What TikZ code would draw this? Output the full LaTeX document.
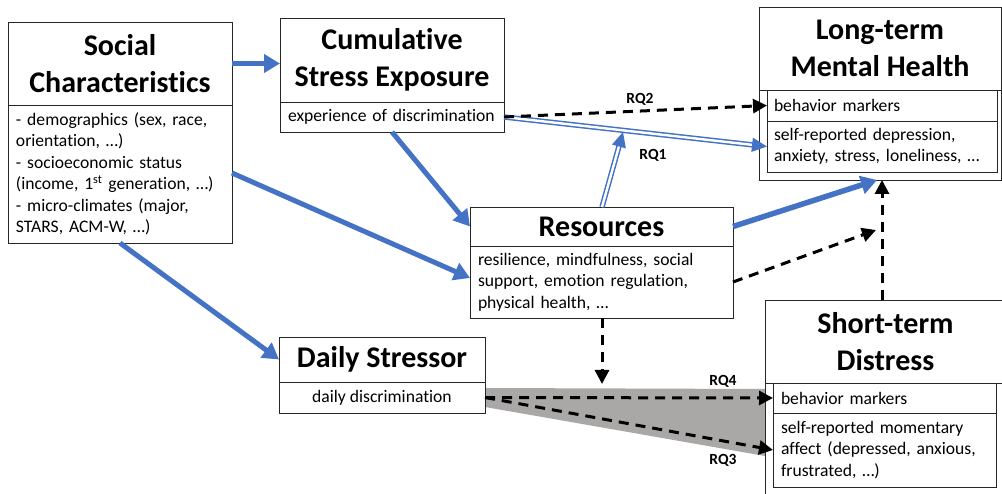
\documentclass[tikz,border=0pt]{standalone}
\usepackage{fontspec}
\setmainfont{Carlito}[Ligatures={NoCommon}]
\usetikzlibrary{arrows.meta}
\definecolor{myblue}{RGB}{68,114,196}
\definecolor{bandgray}{RGB}{170,167,167}
\newcommand{\ttlfont}{\fontsize{30}{37}\selectfont\bfseries}
\newcommand{\bodyfont}{\fontsize{17.6}{21.5}\selectfont}
\newcommand{\rqfont}{\fontsize{15.5}{18}\selectfont\bfseries}
\begin{document}
\begin{tikzpicture}[x=1pt,y=-1pt,
  box/.style={draw=black!85, line width=0.9pt, inner sep=0pt, outer sep=0pt, anchor=north west},
  ttl/.style={box, align=center, font=\ttlfont},
  txt/.style={box, align=left, font=\bodyfont, inner xsep=8pt},
  bluethick/.style={draw=myblue, line width=5.5pt, -{Triangle[length=16pt,width=18pt]}},
  dbl/.style={draw=myblue, line width=1.5pt, double=white, double distance=2.4pt, -{Triangle[length=15pt,width=14pt]}},
  dashline/.style={black, line width=3pt, dash pattern=on 10pt off 7pt, -{Triangle[length=14pt,width=14pt]}},
  rq/.style={font=\rqfont, inner sep=0pt}]
\useasboundingbox (0,0) rectangle (1002,494);
\clip (0,0) rectangle (1002,494);

% shaded band
\fill[bandgray] (485,388) -- (765,389) -- (765,456) -- (485,407) -- cycle;

% Social Characteristics
\node[ttl, minimum width=224pt, minimum height=83pt] (sct) at (8,22) {Social\\Characteristics};
\node[txt, minimum width=224pt, minimum height=138pt, text width=208pt] (scb) at (8,105)
  {- demographics (sex, race,\\orientation, \dots)\\- socioeconomic status\\(income, 1\textsuperscript{st} generation, \dots)\\- micro-climates (major,\\STARS, ACM-W, \dots)};

% Cumulative Stress Exposure
\node[ttl, minimum width=224pt, minimum height=84pt] (cst) at (280,18) {Cumulative\\Stress Exposure};
\node[txt, minimum width=224pt, minimum height=30pt, text width=208pt] (csb) at (280,102) {experience of discrimination};

% Long-term Mental Health
\node[box, minimum width=242pt, minimum height=173pt] (lto) at (759,7) {};
\node[ttl, minimum width=242pt, minimum height=83pt] (ltt) at (759,7) {Long-term\\Mental Health};
\node[txt, minimum width=230pt, minimum height=31pt, text width=216pt, inner xsep=7pt] (lt1) at (767,90) {behavior markers};
\node[txt, minimum width=230pt, minimum height=51pt, text width=216pt, inner xsep=7pt] (lt2) at (767,121) {self-reported depression,\\anxiety, stress, loneliness, \dots};

% Resources
\node[ttl, minimum width=263pt, minimum height=39pt] (rst) at (470,207) {Resources};
\node[txt, minimum width=263pt, minimum height=72pt, text width=247pt] (rsb) at (470,246) {resilience, mindfulness, social\\support, emotion regulation,\\physical health, \dots};

% Daily Stressor
\node[ttl, minimum width=206pt, minimum height=45pt] (dst) at (279,337) {Daily Stressor};
\node[box, align=center, font=\bodyfont, minimum width=206pt, minimum height=31pt] (dsb) at (279,382) {daily discrimination};

% Short-term Distress
\node[box, minimum width=250pt, minimum height=220pt] (sto) at (765,300) {};
\node[ttl, minimum width=250pt, minimum height=83pt] (stt) at (765,300) {\hspace*{-9pt}Short-term\\\hspace*{-9pt}Distress};
\node[txt, minimum width=223pt, minimum height=30pt, text width=207pt] (sr1) at (773,383) {behavior markers};
\node[txt, minimum width=223pt, minimum height=74pt, text width=207pt] (sr2) at (773,413) {self-reported momentary\\affect (depressed, anxious,\\frustrated, \dots)};

% coordinates for free ends
\coordinate (modtip) at (602,384);
\coordinate (mtip) at (876,230);
\coordinate (rq1tip) at (623,132);

% blue arrows
\draw[bluethick] (sct.east) -- (sct.east -| cst.west);
\draw[bluethick, line width=5pt] ([xshift=112pt]csb.south west) -- (rst.west);
\draw[bluethick, line width=5pt] ([yshift=1pt]scb.east) -- ([yshift=4pt]rsb.west);
\draw[bluethick, line width=5pt] ([xshift=112pt]scb.south west) -- (dst.west);
\draw[bluethick] (rst.east) -- ([xshift=118pt]lto.south west);

% double arrows (RQ1)
\draw[dbl] (csb.east) -- (lt2.west);
\draw[dbl] ([xshift=132pt]rst.north west) -- (rq1tip);

% dashed arrows
\draw[dashline] (csb.east) -- (lt1.west);
\draw[dashline] (rsb.east) -- (mtip);
\draw[dashline] ([xshift=117pt]sto.north west) -- ([xshift=123pt]lto.south west);
\draw[dashline] ([xshift=132pt]rsb.south west) -- (modtip);
\draw[dashline] (dsb.east) -- (sr1.west);
\draw[dashline] (dsb.east) -- (sr2.west);

% labels
\node[rq] (rq1) at (653,155) {RQ1};
\node[rq] (rq2) at (640,99) {RQ2};
\node[rq] (rq4) at (723,381) {RQ4};
\node[rq] (rq3) at (723,460) {RQ3};
\end{tikzpicture}
\end{document}
